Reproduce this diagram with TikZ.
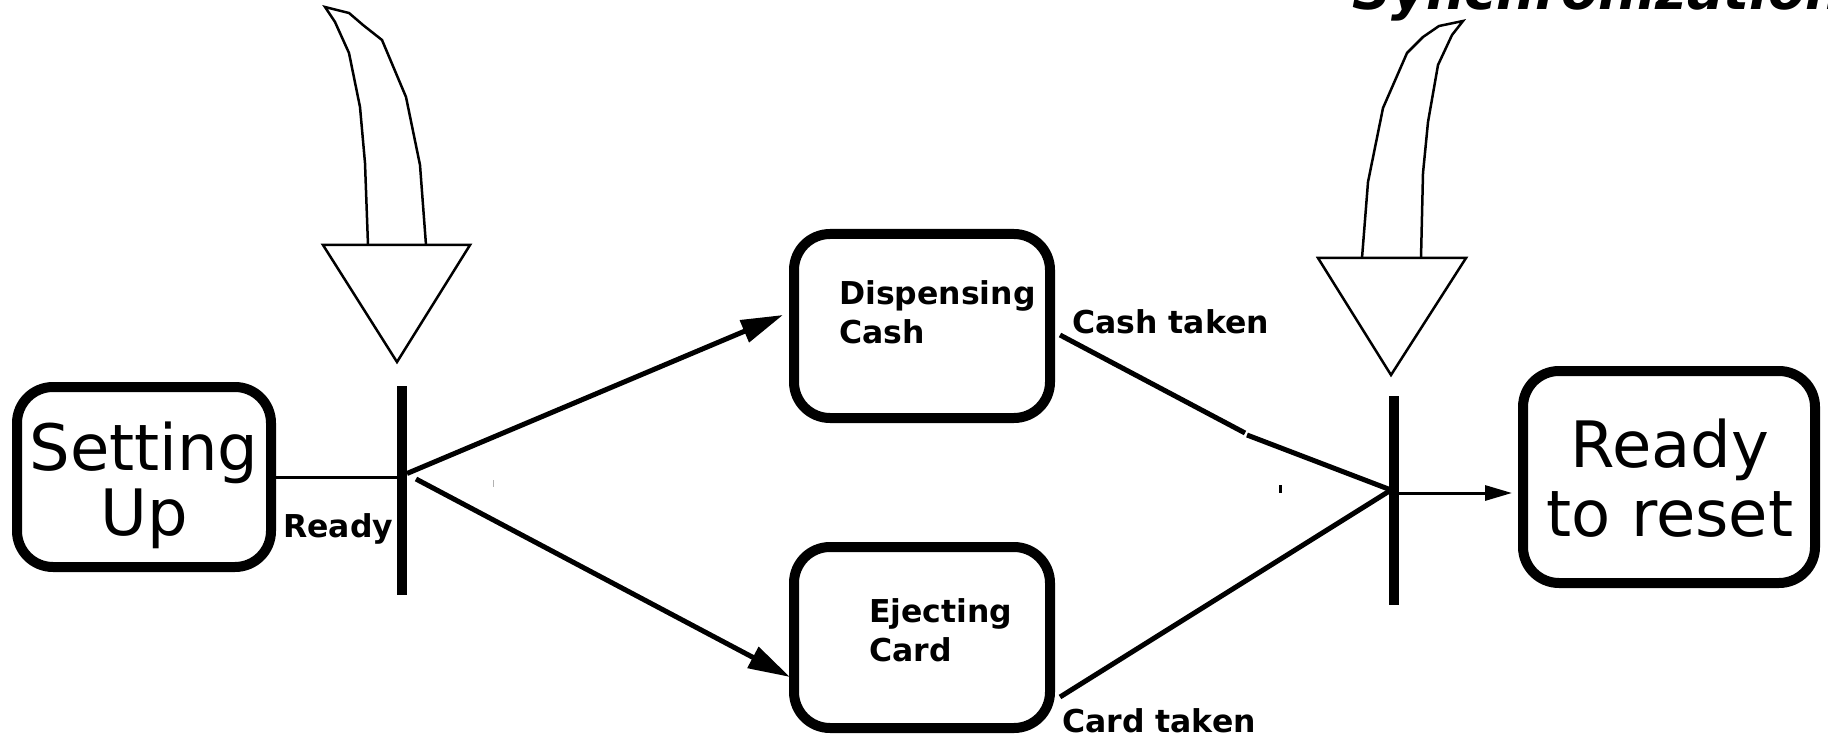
\documentclass[tikz,border=0pt]{standalone}
\usepackage{fontspec}
\setmainfont{DejaVu Sans}
\usetikzlibrary{arrows.meta}
\begin{document}
\begin{tikzpicture}[x=1pt,y=-1pt,
  statebox/.style={draw=black, line width=10pt, rounded corners=36pt, inner sep=0pt},
  boldtext/.style={font=\fontsize{31.5}{39}\selectfont\bfseries},
  syncbar/.style={fill=black, draw=none, minimum width=10pt, minimum height=209pt, inner sep=0pt, outer sep=0pt},
  flow/.style={line width=5pt},
  flowarrow/.style={flow, -{Triangle[length=42pt,width=23pt]}},
  thinflow/.style={line width=3pt},
  hint/.style={line width=2.5pt, fill=white, line join=miter},
  tag/.style={anchor=base west, inner sep=0pt, boldtext},
  boxtext/.style={anchor=north west, inner sep=0pt, align=left, boldtext},
  bigtext/.style={inner sep=0pt, align=center}
]
\useasboundingbox (0,0) rectangle (1828,735);

% hollow hint arrows pointing at the two bars
\draw[hint] (368,245) -- (365,163) -- (360,107) -- (349,53) -- (335,22) -- (325,7)
  -- (349,13) -- (363,25) -- (382,40) -- (406,97) -- (420,165) -- (426,245);
\draw[hint] (323,245) -- (470,245) -- (397,362) -- cycle;
\draw[hint] (1362,258) -- (1368,182) -- (1383,108) -- (1407,53) -- (1423,37) -- (1439,26)
  -- (1463,21) -- (1452,35) -- (1438,65) -- (1428,122) -- (1423,173) -- (1421,258);
\draw[hint] (1318,258) -- (1466,258) -- (1391,375) -- cycle;

\node[anchor=base west, inner sep=0pt, font=\fontsize{54}{60}\selectfont\bfseries\itshape]
  (syncLbl) at (1352,10) {Synchronization};

% states
\node[statebox, minimum width=254pt, minimum height=180pt] (setup) at (144,477) {};
\node[bigtext, font=\fontsize{64}{65}\selectfont] (setupText) at (144,485) {Setting\\Up};
\node[statebox, minimum width=256pt, minimum height=184pt] (disp) at (922,326) {};
\node[boxtext] (dispText) at (839,280) {Dispensing\\Cash};
\node[statebox, minimum width=256pt, minimum height=181pt] (eject) at (922,637.5) {};
\node[boxtext] (ejectText) at (869,598) {Ejecting\\Card};
\node[statebox, minimum width=292pt, minimum height=212pt] (reset) at (1669,477) {};
\node[bigtext, font=\fontsize{64}{69}\selectfont] (resetText) at (1670,478.5) {Ready\\to reset};

% fork and join bars
\node[syncbar] (fork) at (402,490.5) {};
\node[syncbar] (join) at (1394,500.5) {};

% transitions
\draw[thinflow] (setup.east) -- (setup.east -| fork.east);
\draw[flowarrow] ([shift={(0,-17)}]fork.east) -- ([shift={(-6,-11)}]disp.west);
\draw[flowarrow] ([shift={(9,-11.5)}]fork.east) -- ([shift={(1,39.5)}]eject.west);
\draw[flow] ([shift={(5,9)}]disp.east) -- ([shift={(-144,-67.5)}]join.west);
\draw[flow] ([shift={(-142,-65.5)}]join.west) -- ([shift={(2,-10.5)}]join.west);
\draw[flow] ([shift={(5,59.5)}]eject.east) -- ([shift={(2,-10.5)}]join.west);
\coordinate (rin) at ([shift={(-6,16)}]reset.west);
\draw[thinflow, -{Triangle[length=27pt,width=15pt]}] (join.center |- rin) -- (rin);

% small stray marks
\draw[gray!60, line width=1pt] (493,480) -- (493,487);
\draw[line width=3pt] (1280,485) -- (1280,493);

% transition labels
\node[tag] (readyLbl) at (283,537) {Ready};
\node[tag] (cashLbl) at (1072,333) {Cash taken};
\node[tag] (cardLbl) at (1062,732) {Card taken};
\end{tikzpicture}
\end{document}
